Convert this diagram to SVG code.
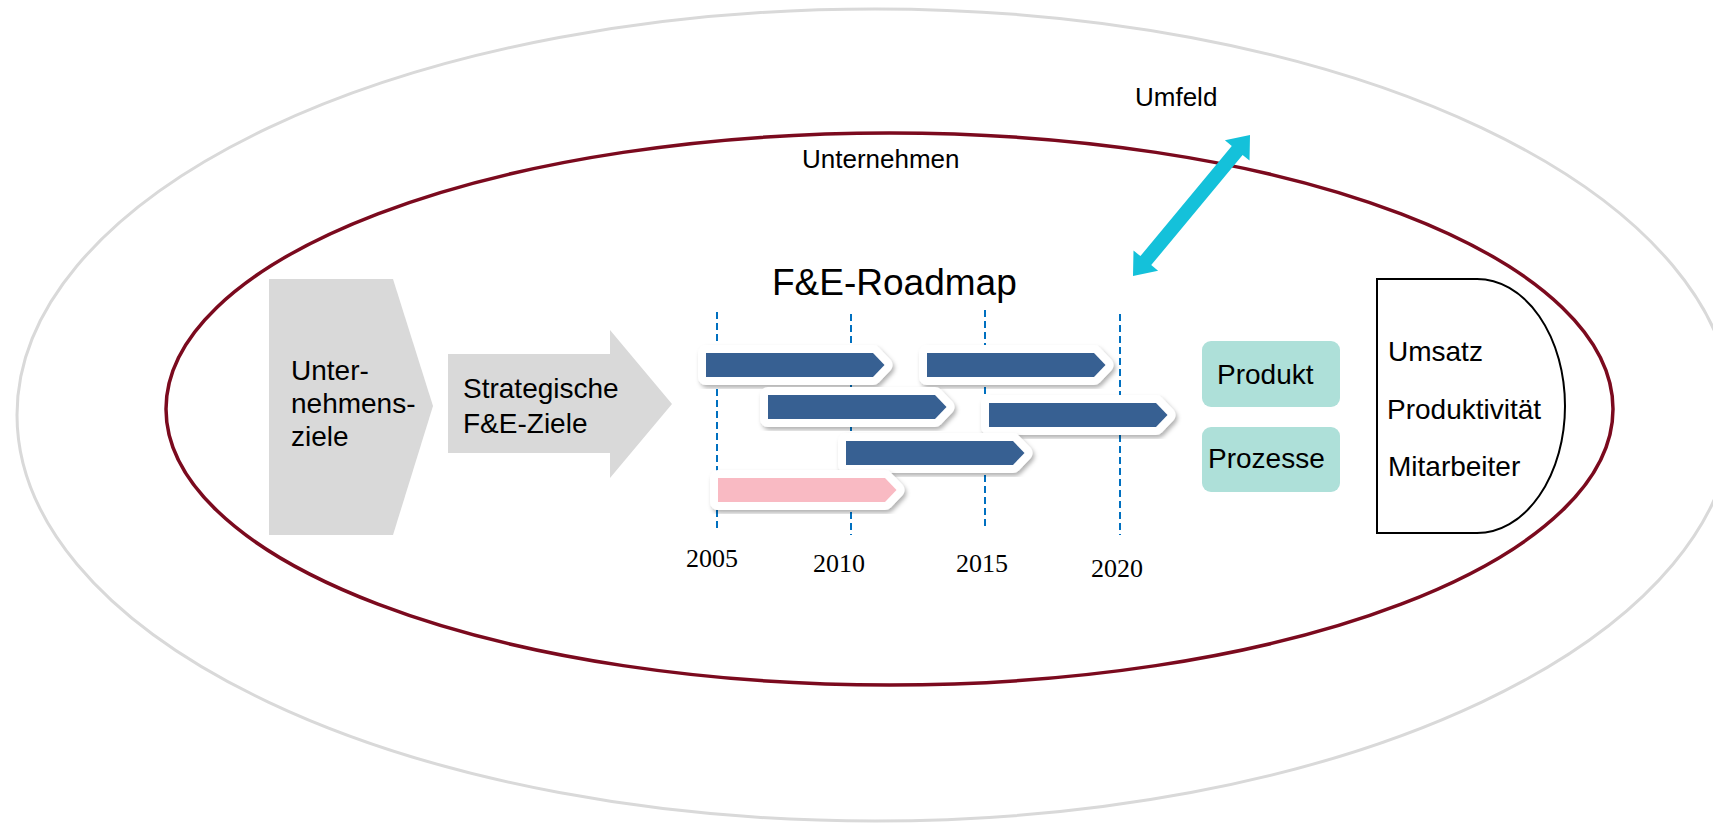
<svg xmlns="http://www.w3.org/2000/svg" xmlns:xlink="http://www.w3.org/1999/xlink" width="1713" height="823" viewBox="0 0 1713 823">
<style>
  .sans { font-family: "Liberation Sans", Arial, sans-serif; fill: #000; }
  .serif { font-family: "Liberation Serif", "Times New Roman", serif; fill: #000; font-size: 26px; }
  .grid { stroke: #0070c0; stroke-width: 2; stroke-dasharray: 7 4; fill: none; }
  .gray { fill: #d9d9d9; }
  .teal { fill: #aee0d9; }
  .barOut { fill: #fff; stroke: #fff; stroke-width: 16; stroke-linejoin: round; filter: url(#sh); }
</style>
<defs>
  <filter id="sh" x="-20%" y="-50%" width="140%" height="200%">
    <feDropShadow dx="2" dy="3" stdDeviation="2" flood-color="#000" flood-opacity="0.3"/>
  </filter>
  <path id="bar" d="M0,0 H167 L178.5,12 L167,24 H0 Z"/>
</defs>
<rect width="1713" height="823" fill="#fff"/>

<g id="umfeld">
  <ellipse cx="875" cy="415" rx="858" ry="406" fill="none" stroke="#d9d9d9" stroke-width="3"/>
  <text class="sans" x="1135" y="106" font-size="26">Umfeld</text>
</g>

<g id="unternehmen">
  <ellipse cx="889.5" cy="409" rx="723.5" ry="276" fill="none" stroke="#7b0a1e" stroke-width="3.5"/>
  <text class="sans" x="802" y="168" font-size="26">Unternehmen</text>
</g>

<g id="unternehmensziele">
  <polygon class="gray" points="269,279 393,279 433,406 393,535 269,535"/>
  <text class="sans" font-size="28"><tspan x="291" y="380">Unter-</tspan><tspan x="291" y="413">nehmens-</tspan><tspan x="291" y="446">ziele</tspan></text>
</g>

<g id="strategische-ziele">
  <polygon class="gray" points="448,354 610,354 610,330 672,404 610,478 610,453 448,453"/>
  <text class="sans" font-size="28"><tspan x="463" y="398">Strategische</tspan><tspan x="463" y="433">F&amp;E-Ziele</tspan></text>
</g>

<g id="roadmap">
  <text class="sans" x="772" y="295" font-size="37">F&amp;E-Roadmap</text>
  <line class="grid" x1="717" y1="312" x2="717" y2="532"/>
  <line class="grid" x1="851" y1="314" x2="851" y2="535"/>
  <line class="grid" x1="985" y1="310" x2="985" y2="530"/>
  <line class="grid" x1="1120" y1="314" x2="1120" y2="535"/>
  <g transform="translate(706,353)"><use xlink:href="#bar" class="barOut"/><use xlink:href="#bar" fill="#376092"/></g>
  <g transform="translate(927,353)"><use xlink:href="#bar" class="barOut"/><use xlink:href="#bar" fill="#376092"/></g>
  <g transform="translate(768,395)"><use xlink:href="#bar" class="barOut"/><use xlink:href="#bar" fill="#376092"/></g>
  <g transform="translate(989,403)"><use xlink:href="#bar" class="barOut"/><use xlink:href="#bar" fill="#376092"/></g>
  <g transform="translate(846,441)"><use xlink:href="#bar" class="barOut"/><use xlink:href="#bar" fill="#376092"/></g>
  <g transform="translate(718,478)"><use xlink:href="#bar" class="barOut"/><use xlink:href="#bar" fill="#f9bac3"/></g>
  <text class="serif" x="686" y="567">2005</text>
  <text class="serif" x="813" y="572">2010</text>
  <text class="serif" x="956" y="572">2015</text>
  <text class="serif" x="1091" y="577">2020</text>
</g>

<g id="connectors">
  <polygon fill="#14c1da" points="1250,135 1249.5,160.6 1242.6,154.9 1151.2,265.1 1158.1,270.8 1133,276 1133.5,250.4 1140.4,256.1 1231.8,145.9 1224.9,140.2"/>
</g>

<g id="produkt">
  <rect class="teal" x="1202" y="341" width="138" height="66" rx="9"/>
  <text class="sans" x="1217" y="384" font-size="28">Produkt</text>
</g>
<g id="prozesse">
  <rect class="teal" x="1202" y="427" width="138" height="65" rx="9"/>
  <text class="sans" x="1208" y="468" font-size="28">Prozesse</text>
</g>

<g id="ergebnisse">
  <path d="M1377,279 H1477 A88,127 0 0 1 1477,533 H1377 Z" fill="#fff" stroke="#000" stroke-width="2"/>
  <text class="sans" x="1388" y="361" font-size="28">Umsatz</text>
  <text class="sans" x="1387" y="419" font-size="28">Produktivität</text>
  <text class="sans" x="1388" y="476" font-size="28">Mitarbeiter</text>
</g>
</svg>
